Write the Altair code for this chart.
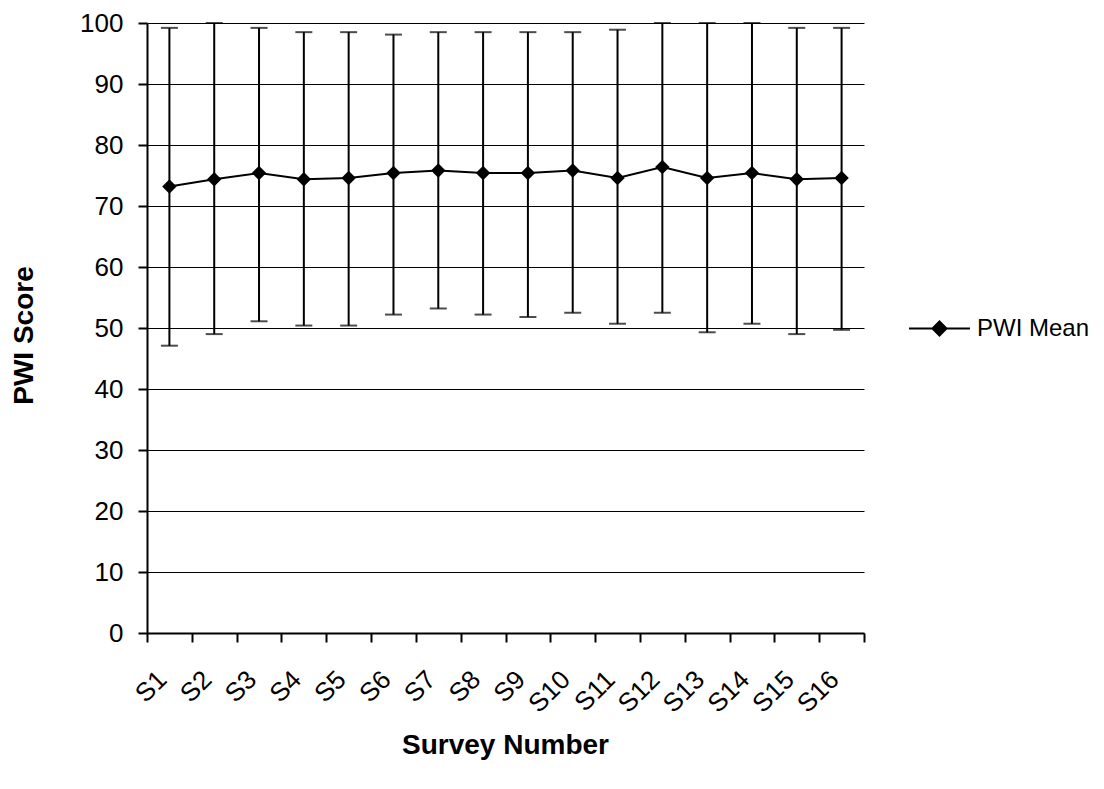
import json
import altair as alt
import pandas as pd

categories = ["S1", "S2", "S3", "S4", "S5", "S6", "S7", "S8",
              "S9", "S10", "S11", "S12", "S13", "S14", "S15", "S16"]
means = [73.2, 74.4, 75.4, 74.4, 74.6, 75.4, 75.8, 75.4,
         75.4, 75.8, 74.6, 76.4, 74.6, 75.4, 74.4, 74.6]
upper = [99.2, 100.0, 99.2, 98.5, 98.5, 98.1, 98.5, 98.5,
         98.5, 98.5, 98.9, 100.0, 100.0, 100.0, 99.2, 99.2]
lower = [47.1, 49.0, 51.1, 50.4, 50.4, 52.2, 53.2, 52.2,
         51.8, 52.5, 50.7, 52.5, 49.3, 50.7, 49.0, 49.7]
series_name = "PWI Mean"
y_ticks = list(range(0, 101, 5))

n = len(categories)
df = pd.DataFrame({
    "cat": categories,
    "pos": [i + 0.5 for i in range(n)],
    "mean": means,
    "upper": upper,
    "lower": lower,
    "series": [series_name] * n,
})

FONT = "Liberation Sans"
W, H = 717, 610

label_expr = f"datum.value < {n} ? {json.dumps(categories)}[datum.value] : ''"

x = alt.X(
    "pos:Q",
    scale=alt.Scale(domain=[0, n], nice=False, zero=False),
    axis=alt.Axis(
        values=list(range(n + 1)),
        labelExpr=label_expr,
        title="Survey Number",
        grid=False,
        tickSize=9,
        tickWidth=2,
        tickColor="black",
        domainWidth=2,
        domainColor="black",
        labelAngle=-45,
        labelAlign="right",
        labelBaseline="top",
        labelPadding=24,
        labelOffset=6,
        labelFlush=False,
        labelOverlap=False,
        titleX=358,
        titleY=112,
        titleBaseline="middle",
        titleAlign="center",
    ),
)

y_axis = alt.Axis(
    values=y_ticks,
    labelExpr="datum.value % 10 === 0 ? datum.label : ''",
    title="PWI Score",
    grid=True,
    gridColor="black",
    gridWidth=1,
    gridOpacity={"condition": {"test": "datum.value % 10 === 0", "value": 1}, "value": 0},
    tickSize={"condition": {"test": "datum.value % 10 === 0", "value": 9}, "value": 4},
    tickWidth=2,
    tickColor="black",
    domainWidth=2,
    domainColor="black",
    labelPadding=15,
    labelOverlap=False,
    titleX=-123,
    titleY=312,
    titleAngle=-90,
    titleBaseline="middle",
    titleAlign="center",
)
y_scale = alt.Scale(domain=[0, 100], nice=False)

base = alt.Chart(df)

bars = base.mark_rule(color="black", strokeWidth=2).encode(
    x=x,
    y=alt.Y("lower:Q", scale=y_scale, axis=y_axis),
    y2="upper:Q",
)
cap_hi = base.mark_tick(orient="horizontal", color="black", size=17, thickness=2).encode(
    x="pos:Q", y="upper:Q"
)
cap_lo = base.mark_tick(orient="horizontal", color="black", size=17, thickness=2).encode(
    x="pos:Q", y="lower:Q"
)
line = base.mark_line(strokeWidth=2).encode(
    x="pos:Q",
    y="mean:Q",
    stroke=alt.Stroke(
        "series:N",
        scale=alt.Scale(domain=[series_name], range=["black"]),
        legend=alt.Legend(
            title=None,
            orient="none",
            legendX=761,
            legendY=274,
            padding=0,
            symbolType="M-1,0L1,0M0,-0.23L0.23,0L0,0.23L-0.23,0Z",
            symbolSize=3721,
            symbolStrokeWidth=2,
            symbolFillColor="black",
            symbolStrokeColor="black",
            labelFont=FONT,
            labelFontSize=24,
            labelColor="black",
            labelOffset=6,
        ),
    ),
)
points = base.mark_point(shape="diamond", filled=True, size=210, color="black", opacity=1).encode(
    x="pos:Q", y="mean:Q"
)

chart = (
    alt.layer(bars, cap_hi, cap_lo, line, points)
    .properties(
        width=W,
        height=H,
        background="white",
        autosize=alt.AutoSizeParams(type="none"),
        padding={"left": 139, "top": 15, "right": 232, "bottom": 150},
    )
    .configure_view(stroke=None)
    .configure_axis(
        labelFont=FONT,
        labelFontSize=26,
        labelColor="black",
        titleFont=FONT,
        titleFontSize=28,
        titleFontWeight="bold",
        titleColor="black",
    )
)

chart.save("out.html", embed_options={"renderer": "svg", "actions": False})
